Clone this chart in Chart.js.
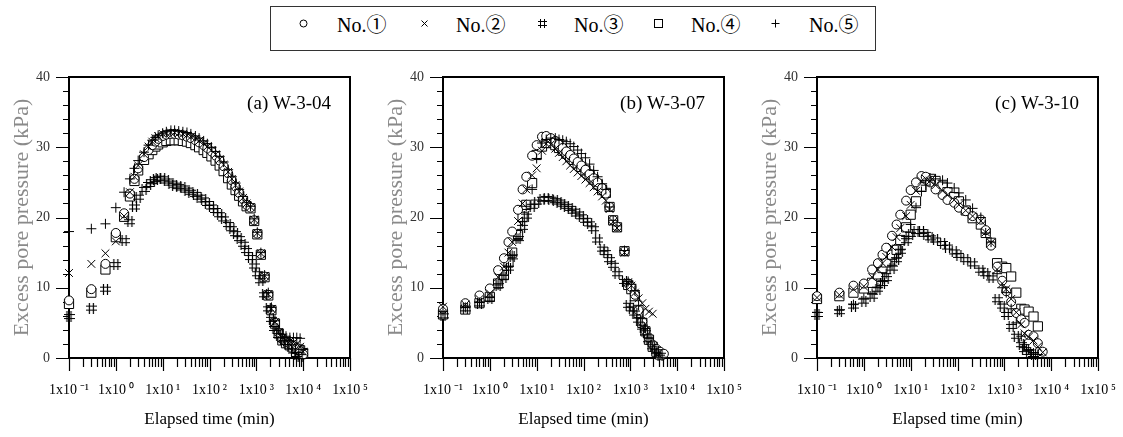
<!DOCTYPE html>
<html>
<head>
<meta charset="utf-8">
<script src="https://cdn.jsdelivr.net/npm/chart.js@4.4.1/dist/chart.umd.min.js"></script>
<style>
  body { margin: 0; background: #fff; width: 1123px; height: 437px; position: relative; overflow: hidden;
         font-family: "Liberation Serif", "Times New Roman", serif; }
  .panel { position: absolute; top: 60px; width: 374px; height: 377px; }
  #legend { position: absolute; left: 270px; top: 6px; width: 604px; height: 43px; border: 1px solid #333; }
  .sym { position: absolute; top: 11px; width: 11px; height: 11px; margin-left: -5.5px; }
  .txt { position: absolute; top: 0; height: 36px; line-height: 36px; font-size: 20px; color: #000;
         font-family: "Liberation Serif", "Noto Sans CJK JP", serif; }
</style>
</head>
<body>
<div id="legend"></div>
<canvas id="c0" class="panel" width="374" height="377" style="left:0px"></canvas>
<canvas id="c1" class="panel" width="374" height="377" style="left:374px"></canvas>
<canvas id="c2" class="panel" width="374" height="377" style="left:748px"></canvas>
<script>
// ---- data (elapsed time in min, excess pore pressure in kPa) ----
const seriesNames = ['No.①', 'No.②', 'No.③', 'No.④', 'No.⑤'];
const panelTitles = ['(a) W-3-04', '(b) W-3-07', '(c) W-3-10'];

const xDecades = [0.1, 1, 10, 100, 1000, 10000, 100000];
const xTickLabels = ['1x10\u2009⁻¹', '1x10\u2009⁰', '1x10\u2009¹', '1x10\u2009²', '1x10\u2009³', '1x10\u2009⁴', '1x10\u2009⁵'];

// (a) W-3-04
const timesA = [0.1, 0.3, 0.6, 1, 1.5, 2, 2.5, 3, 4, 5, 6, 7, 8, 10, 12, 15, 18, 22, 27, 33, 40, 50, 60, 75, 90,
  110, 135, 165, 200, 250, 300, 360, 430, 520, 620, 750, 900, 1050, 1250, 1500, 1800, 2100, 2500, 3000, 3600,
  4300, 5200, 6200, 7300, 8600, 10000];
const a1 = [8.2, 9.8, 13.4, 17.8, 20.6, 23.4, 25.5, 27.0, 28.6, 29.6, 30.3, 30.8, 31.2, 31.6, 31.8, 31.9, 31.9, 31.8,
  31.7, 31.5, 31.3, 31.0, 30.7, 30.3, 29.9, 29.4, 28.8, 28.1, 27.3, 26.3, 25.3, 24.4, 23.5, 22.6, 21.8, 21.4, 19.6,
  17.7, 14.8, 11.6, 9.0, 6.9, 5.0, 3.6, 2.7, 2.3, 2.0, 1.7, 1.4, 1.0, 0.5];
const a2 = [12.1, 13.4, 14.9, 16.6, 20.2, 23.6, 25.8, 27.4, 29.0, 30.1, 30.8, 31.3, 31.6, 31.9, 32.0, 32.1, 32.1, 32.0,
  31.9, 31.7, 31.5, 31.2, 30.9, 30.5, 30.1, 29.6, 29.0, 28.3, 27.5, 26.5, 25.5, 24.6, 23.7, 22.8, 22.0, 21.5, 19.7,
  17.8, 14.9, 11.7, 9.1, 7.0, 5.1, 3.7, 2.9, 2.6, 2.4, 2.2, 2.0, 1.6, 0.9];
const a3 = [5.9, 7.1, 9.8, 13.3, 16.7, 19.4, 21.5, 22.9, 24.0, 24.7, 25.1, 25.4, 25.6, 25.5, 25.2, 24.9, 24.6, 24.4,
  24.2, 23.9, 23.6, 23.3, 22.9, 22.5, 22.0, 21.5, 21.0, 20.4, 19.8, 19.0, 18.4, 17.7, 17.0, 16.2, 15.3, 14.3, 13.1,
  12.0, 11.0, 9.0, 7.0, 5.5, 4.2, 3.2, 2.6, 2.2, 1.6, 1.0, 0.5, 0.2, null];
const a4 = [7.7, 9.3, 12.6, 17.2, 20.1, 23.0, 25.2, 26.7, 28.2, 29.0, 29.6, 30.1, 30.4, 30.7, 30.9, 31.0, 31.0, 31.0,
  30.9, 30.8, 30.6, 30.3, 30.0, 29.6, 29.2, 28.7, 28.1, 27.4, 26.6, 25.6, 24.7, 23.9, 23.1, 22.3, 21.6, 21.3, 19.5,
  17.6, 14.7, 11.5, 8.9, 6.8, 4.9, 3.5, 2.5, 2.1, 1.8, 1.5, 1.3, 1.1, 0.7];
const a5 = [18.0, 18.4, 19.1, 21.4, 23.6, 25.5, 27.0, 28.1, 29.3, 30.3, 31.0, 31.4, 31.7, 32.0, 32.2, 32.4, 32.4, 32.3,
  32.2, 32.1, 31.9, 31.6, 31.3, 30.9, 30.5, 30.0, 29.4, 28.7, 27.9, 26.8, 25.8, 24.9, 24.0, 23.0, 22.1, 21.6, 19.8,
  17.9, 15.0, 11.8, 9.3, 7.2, 5.3, 4.0, 3.4, 3.1, 2.9, 2.9, 2.9, 2.8, 1.2];

// (b) W-3-07
const timesB = [0.1, 0.3, 0.6, 1, 1.5, 2, 2.5, 3, 4, 5, 6, 8, 10, 13, 16, 20, 25, 30, 36, 43, 52, 62, 75, 90, 110,
  135, 165, 200, 250, 300, 360, 430, 520, 750, 900, 1050, 1250, 1500, 1800, 2100, 2500, 3000, 3600, 4300, 5200];
const b1 = [7.0, 7.8, 8.9, 9.9, 12.5, 14.2, 16.5, 18.0, 21.1, 24.0, 25.8, 28.8, 30.3, 31.5, 31.6, 31.3, 30.9, 30.4,
  29.9, 29.4, 28.9, 28.4, 27.9, 27.4, 26.8, 26.2, 25.6, 25.0, 24.2, 23.4, 21.5, 19.6, 18.7, 15.2, 10.6, 10.1, 9.0,
  6.8, 5.2, 3.9, 2.9, 1.9, 1.3, 0.9, 0.6];
const b2 = [7.3, 7.6, 8.4, 9.2, 11.5, 13.0, 15.0, 16.5, 19.5, 22.0, 24.0, 26.0, 27.0, 29.5, 30.5, 30.4, 29.8, 29.2,
  28.6, 28.0, 27.4, 26.9, 26.4, 25.9, 25.4, 24.9, 24.3, 23.7, 23.0, 22.4, 21.2, 19.4, 18.5, 15.0, 10.8, 10.3, 9.3,
  8.5, 7.8, 7.0, 6.6, 6.3, null, null, null];
const b3 = [6.0, 7.0, 7.7, 8.4, 10.3, 11.5, 12.8, 14.4, 17.0, 18.6, 20.2, 21.6, 22.2, 22.6, 22.7, 22.6, 22.4, 22.2,
  21.9, 21.6, 21.3, 20.9, 20.5, 20.1, 19.6, 19.1, 18.4, 16.8, 15.5, 15.0, 14.0, 13.2, 12.0, 10.9, 7.5, 7.0, 6.4,
  5.4, 4.4, 3.6, 2.6, 1.6, 0.9, 0.4, null];
const b4 = [6.2, 6.9, 7.8, 8.7, 10.6, 11.8, 13.6, 15.0, 17.5, 20.1, 21.8, 24.9, 28.9, 30.1, 30.6, 30.6, 30.3, 29.9,
  29.5, 29.1, 28.6, 28.2, 27.7, 27.2, 26.7, 26.1, 25.4, 24.7, 23.9, 23.5, 21.5, 19.6, 18.6, 15.2, 10.4, 9.8, 8.8,
  6.4, 5.0, 3.8, 2.6, 1.6, 0.9, 0.5, null];
const b5 = [6.6, 7.2, 7.9, 8.6, 10.4, 11.8, 13.0, 14.6, 17.0, 19.4, 21.6, 24.0, 28.4, 30.6, 31.1, 31.3, 31.3, 31.1,
  31.0, 30.8, 30.5, 30.1, 29.6, 29.1, 28.5, 27.6, 26.7, 25.8, 24.8, 24.0, 21.5, 19.6, 18.8, 15.3, 10.9, 10.5, 9.6,
  7.5, 5.6, 4.2, 2.8, 1.6, 0.8, 0.4, null];

// (c) W-3-10
const timesC = [0.1, 0.3, 0.6, 1, 1.5, 2, 2.5, 3, 4, 5, 6, 8, 10, 13, 17, 21, 26, 34, 48, 61, 85, 107, 150, 210, 315,
  400, 520, 700, 900, 1100, 1400, 1800, 2300, 2700, 3300, 4200, 5200, 6600, 8000];
const c1 = [8.8, 9.3, 10.3, 10.6, 12.6, 13.5, 14.7, 15.7, 17.4, 19.0, 20.4, 22.4, 23.9, 25.0, 25.9, 25.8, 25.0, 24.0,
  23.2, 22.5, 22.1, 21.4, 20.9, 20.2, 19.7, 18.2, 16.0, 13.0, 11.0, 9.5, 8.0, 6.4, 5.5, 5.0, 3.3, 3.1, 2.1, 0.9, null];
const c2 = [8.6, 9.0, 9.8, 10.2, 11.5, 12.6, 13.5, 14.4, 15.8, 17.2, 18.5, 20.2, 21.8, 23.8, 25.2, 25.5, 25.2, 24.6,
  23.8, 23.2, 22.5, 21.8, 21.0, 20.2, 19.5, 17.9, 16.4, 12.6, 10.6, 9.8, 8.4, 6.5, 4.8, 3.5, 3.0, 2.5, 1.6, 0.8, null];
const c3 = [6.2, 6.6, 7.4, 8.1, 8.8, 9.8, 10.6, 11.3, 12.8, 14.0, 15.2, 16.7, 17.6, 18.0, 18.0, 17.6, 17.1, 16.8,
  16.3, 15.8, 15.1, 14.6, 14.0, 13.4, 12.5, 12.0, 11.4, 8.3, 7.4, 6.2, 4.5, 3.1, 1.9, 1.2, 0.8, 0.5, null, null, null];
const c4 = [8.4, 8.8, 9.3, 9.9, 10.7, 11.9, 12.8, 13.6, 14.7, 15.4, 16.8, 18.6, 20.4, 22.3, 24.4, 25.6, 25.5, 25.2,
  24.4, 23.6, 22.9, 22.3, 21.0, 19.9, 19.0, 17.8, 16.4, 13.5, 13.0, 12.8, 11.6, 9.3, 7.0, 6.9, 6.6, 5.9, 4.5, null, null];
const c5 = [6.5, 6.8, 7.6, 8.5, 9.2, 10.0, 11.0, 12.0, 13.2, 14.2, 15.4, 17.3, 19.0, 21.4, 23.7, 24.6, 25.3, 25.5,
  25.3, 24.9, 24.2, 23.5, 22.5, 21.3, 20.0, 17.8, 16.5, 12.0, 10.0, 9.3, 7.0, 5.0, 3.1, 1.9, 1.2, 0.7, 0.5, null, null];

const panels = [
  { times: timesA, values: [a1, a2, a3, a4, a5] },
  { times: timesB, values: [b1, b2, b3, b4, b5] },
  { times: timesC, values: [c1, c2, c3, c4, c5] }
];

const serif = '"Liberation Serif", "Times New Roman", serif';

// '#' marker for No.3
function hashMarker(size) {
  const c = document.createElement('canvas');
  c.width = size; c.height = size;
  const g = c.getContext('2d');
  g.strokeStyle = '#000';
  g.lineWidth = 1.2;
  const p = 3.5, q = size - 3.5;
  g.beginPath();
  g.moveTo(p, 0); g.lineTo(p, size);
  g.moveTo(q, 0); g.lineTo(q, size);
  g.moveTo(0, p); g.lineTo(size, p);
  g.moveTo(0, q); g.lineTo(size, q);
  g.stroke();
  return c;
}
const hashImg = hashMarker(11);

const markerStyles = [
  { pointStyle: 'circle', pointRadius: 4.5, pointBackgroundColor: '#fff' },
  { pointStyle: 'crossRot', pointRadius: 5.5, pointBackgroundColor: '#fff' },
  { pointStyle: hashImg, pointRadius: 5 },
  { pointStyle: 'rect', pointRadius: 6.5, pointBackgroundColor: '#fff' },
  { pointStyle: 'cross', pointRadius: 5, pointBackgroundColor: '#fff' }
];
// drawing order, first one ends up on top
const drawOrder = [4, 1, 2, 0, 3];

// legend (html, small svg symbols)
const legendSymX = [32, 153, 271, 387, 504];
const legendTxtX = [66, 185, 303, 420, 538];
const legendSyms = [
  '<circle cx="5.5" cy="5.5" r="3.5" fill="none" stroke="#000"/>',
  '<path d="M2.5 2.5L8.5 8.5M8.5 2.5L2.5 8.5" stroke="#000"/>',
  '<path d="M3.5 1V10M7.5 1V10M1 3.5H10M1 7.5H10" stroke="#000"/>',
  '<rect x="1.5" y="1.5" width="8" height="8" fill="none" stroke="#000"/>',
  '<path d="M5.5 1.5V9.5M1.5 5.5H9.5" stroke="#000"/>'
];
const legend = document.getElementById('legend');
seriesNames.forEach((name, i) => {
  legend.insertAdjacentHTML('beforeend',
    `<svg class="sym" style="left:${legendSymX[i]}px" viewBox="0 0 11 11">${legendSyms[i]}</svg>` +
    `<span class="txt" style="left:${legendTxtX[i]}px">${name}</span>`);
});

// minor + major ticks for the log axis
const xTickValues = [];
xDecades.forEach((d, i) => {
  if (i === xDecades.length - 1) { xTickValues.push(d); return; }
  for (let m = 1; m <= 9; m++) xTickValues.push(Number((d * m).toPrecision(10)));
});
function decadeIndex(v) {
  return xDecades.findIndex(d => Math.abs(Math.log10(v) - Math.log10(d)) < 1e-6);
}

// frame, tick marks and panel label
const framePlugin = {
  id: 'frame',
  beforeDatasetsDraw(chart, args, opts) {
    const { ctx, chartArea: a, scales: { x, y } } = chart;
    ctx.save();
    ctx.strokeStyle = '#000';
    ctx.lineWidth = 2;
    ctx.strokeRect(a.left, a.top, a.right - a.left, a.bottom - a.top);
    ctx.lineWidth = 1.2;
    ctx.beginPath();
    x.ticks.forEach(t => {
      const px = Math.round(x.getPixelForValue(t.value)) + 0.5;
      const len = decadeIndex(t.value) >= 0 ? 13 : 9;
      ctx.moveTo(px, a.bottom); ctx.lineTo(px, a.bottom + len);
    });
    y.ticks.forEach(t => {
      const py = Math.round(y.getPixelForValue(t.value)) + 0.5;
      const len = t.value % 10 === 0 ? 13 : 6;
      ctx.moveTo(a.left, py); ctx.lineTo(a.left - len, py);
    });
    ctx.stroke();
    ctx.fillStyle = '#000';
    ctx.font = '19px ' + serif;
    ctx.textAlign = 'right';
    ctx.textBaseline = 'alphabetic';
    ctx.fillText(opts.text, a.right - 19, a.top + 32);
    ctx.restore();
  }
};

panels.forEach((p, k) => {
  const datasets = drawOrder.map(s => Object.assign({
    label: seriesNames[s],
    data: p.times.map((t, i) => p.values[s][i] == null ? null : { x: t, y: p.values[s][i] }).filter(Boolean),
    showLine: false,
    pointBorderColor: '#000',
    pointBorderWidth: 1,
    clip: false
  }, markerStyles[s]));

  new Chart(document.getElementById('c' + k), {
    type: 'scatter',
    data: { datasets },
    plugins: [framePlugin],
    options: {
      responsive: false,
      animation: false,
      layout: { padding: { top: 17, right: 24, left: 0, bottom: 0 } },
      plugins: {
        legend: { display: false },
        tooltip: { enabled: false },
        frame: { text: panelTitles[k] }
      },
      scales: {
        x: {
          type: 'logarithmic',
          min: 0.1,
          max: 100000,
          afterBuildTicks: s => { s.ticks = xTickValues.map(v => ({ value: v, major: decadeIndex(v) >= 0 })); },
          afterFit: s => { s.height = 79; s.paddingLeft = 0; s.paddingRight = 0; },
          grid: { display: false, drawTicks: false },
          border: { display: false },
          ticks: {
            autoSkip: false, maxRotation: 0, minRotation: 0, padding: 24,
            color: '#000', font: { family: serif, size: 14 },
            callback: v => { const i = decadeIndex(v); return i >= 0 ? xTickLabels[i] : ''; }
          },
          title: {
            display: true, text: 'Elapsed time (min)', color: '#000',
            font: { family: serif, size: 17 }, padding: { top: 0, bottom: 7 }
          }
        },
        y: {
          min: 0,
          max: 40,
          afterFit: s => { s.width = 69; s.paddingTop = 0; s.paddingBottom = 0; },
          grid: { display: false, drawTicks: false },
          border: { display: false },
          ticks: {
            stepSize: 2, autoSkip: false, padding: 19,
            color: '#333', font: { family: serif, size: 14 },
            callback: v => v % 10 === 0 ? String(v) : ''
          },
          title: {
            display: true, text: 'Excess pore pressure (kPa)', color: '#8a8a8a',
            font: { family: serif, size: 22 }, padding: { top: 9, bottom: 0 }
          }
        }
      }
    }
  });
});
</script>
</body>
</html>
